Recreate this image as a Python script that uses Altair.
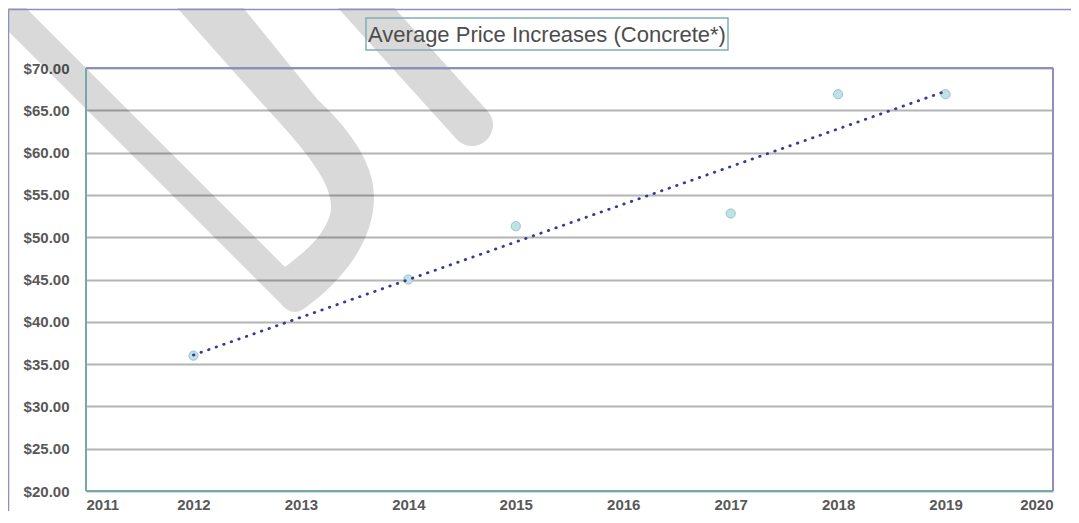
import altair as alt
import pandas as pd

# ---- data ----
years = [2012, 2014, 2015, 2017, 2018, 2019]
prices = [36.0, 45.0, 51.3, 52.8, 66.9, 66.9]
y_ticks = [20, 25, 30, 35, 40, 45, 50, 55, 60, 65, 70]
x_ticks = [2011, 2012, 2013, 2014, 2015, 2016, 2017, 2018, 2019, 2020]
title_text = "Average Price Increases (Concrete*)"

W, H = 967, 423
OX, OY = 86, 68  # plot origin on the page (for decorations only)

df = pd.DataFrame({"year": years, "price": prices})
one = pd.DataFrame({"k": [0]})

LABEL_FONT = "Liberation Sans"
LABEL_COLOR = "#585858"
PURPLE = "#8e8ec0"
TEAL = "#72a9a9"

x_enc = alt.X(
    "year:Q",
    scale=alt.Scale(domain=[2011, 2020], nice=False, zero=False),
    axis=alt.Axis(values=x_ticks, format="d", title=None, ticks=False, domain=False,
                  grid=False, labelPadding=6, labelFontSize=15, labelFontWeight="bold",
                  labelColor=LABEL_COLOR, labelFont=LABEL_FONT),
)
y_enc = alt.Y(
    "price:Q",
    scale=alt.Scale(domain=[20, 70], nice=False, zero=False),
    axis=alt.Axis(values=y_ticks, format="$.2f", title=None, ticks=False, domain=False,
                  grid=True, gridColor="#b4b4b4", gridWidth=2, labelPadding=17,
                  labelFontSize=15, labelFontWeight="bold", labelColor=LABEL_COLOR,
                  labelFont=LABEL_FONT),
)


def shift_path(cmds):
    out = []
    for c in cmds:
        if isinstance(c, str):
            out.append(c)
        else:
            out.append(f"{c[0]-OX},{c[1]-OY}")
    return " ".join(out)


# "DRAFT" watermark fragments (decoration)
d_outer = ["M", (-100, -77), "L", (280, 303), "Q", (292, 318), (305, 308),
           "C", (330, 290), (374, 250), (374, 197), "C", (374, 160), (345, 125), (318, 100),
           "L", (237, 0), "L", (170, -80), "Z"]
d_hole = ["M", (110, -70), "L", (170, 0), "L", (259, 100), "C", (300, 145), (338, 185), (330, 215),
          "C", (322, 240), (300, 255), (285, 267), "L", (-30, -48), "Z"]
d_path = shift_path(d_outer) + " " + shift_path(d_hole)

wm_d = alt.Chart(one).mark_point(
    shape=d_path, size=4, filled=True, fill="#000000", fillOpacity=0.15, strokeWidth=0
).encode(x=alt.value(0), y=alt.value(0))

wm_r = alt.Chart(one).mark_rule(
    color="#000000", opacity=0.15, strokeWidth=42, strokeCap="round"
).encode(x=alt.value(330 - OX), y=alt.value(-32 - OY), x2=alt.value(472 - OX), y2=alt.value(125 - OY))

points = alt.Chart(df).mark_circle(
    size=85, color="#bde3e7", stroke="#9dc3c7", strokeWidth=1, opacity=1
).encode(x=x_enc, y=y_enc)

trend = alt.Chart(df).transform_regression("year", "price").mark_line(
    color="#3a3a96", strokeWidth=2.8, strokeDash=[0.5, 7.5], strokeCap="round"
).encode(x=x_enc, y=y_enc)

# plot-area frame
top_b = alt.Chart(one).mark_rule(color=PURPLE, strokeWidth=2).encode(
    x=alt.value(0), x2=alt.value(W), y=alt.value(0))
right_b = alt.Chart(one).mark_rule(color=PURPLE, strokeWidth=2).encode(
    x=alt.value(W), y=alt.value(0), y2=alt.value(H))
left_b = alt.Chart(one).mark_rule(color=TEAL, strokeWidth=2).encode(
    x=alt.value(0), y=alt.value(0), y2=alt.value(H))
bottom_b = alt.Chart(one).mark_rule(color=TEAL, strokeWidth=2).encode(
    x=alt.value(0), x2=alt.value(W), y=alt.value(H))

# outer chart frame (extends past the window on right/bottom)
outer_top = alt.Chart(one).mark_rule(color=PURPLE, strokeWidth=1.5).encode(
    x=alt.value(-77.5), x2=alt.value(W + 200), y=alt.value(-58.5))
outer_left = alt.Chart(one).mark_rule(color=PURPLE, strokeWidth=1.5).encode(
    x=alt.value(-77.5), y=alt.value(-58.5), y2=alt.value(H + 200))

# title box + text
title_box = alt.Chart(one).mark_rect(
    fillOpacity=0, stroke="#7fb0b0", strokeWidth=1.5
).encode(x=alt.value(366 - OX), x2=alt.value(728 - OX), y=alt.value(18 - OY), y2=alt.value(50 - OY))
title = alt.Chart(one).mark_text(
    text=title_text, font=LABEL_FONT, fontSize=22, color="#4d4d4d",
    align="center", baseline="middle"
).encode(x=alt.value(547 - OX), y=alt.value(35 - OY))

chart = alt.layer(
    points, trend, wm_d, wm_r,
    top_b, right_b, left_b, bottom_b,
    outer_top, outer_left, title_box, title,
).properties(
    width=W, height=H,
    autosize=alt.AutoSizeParams(type="none"),
    padding={"left": 78, "top": 60, "right": 18, "bottom": 20},
    background="white",
).configure_view(stroke="transparent")

chart.save("out.html", embed_options={"renderer": "svg", "actions": False})
